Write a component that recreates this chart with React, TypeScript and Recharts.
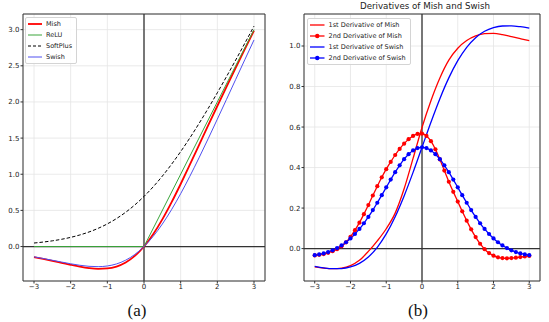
import React from "react";
import {
    LineChart,
    Line,
    XAxis,
    YAxis,
    CartesianGrid,
    ReferenceLine,
    ReferenceArea,
    Legend,
} from "recharts";

// x positions
const xTicks = [-3, -2, -1, 0, 1, 2, 3];
const xs = [
    -3, -2.75, -2.5, -2.25, -2, -1.75, -1.5, -1.25, -1, -0.75, -0.5, -0.25, 0,
    0.25, 0.5, 0.75, 1, 1.25, 1.5, 1.75, 2, 2.25, 2.5, 2.75, 3,
];
const xsFine = [
    -3, -2.875, -2.75, -2.625, -2.5, -2.375, -2.25, -2.125, -2, -1.875, -1.75,
    -1.625, -1.5, -1.375, -1.25, -1.125, -1, -0.875, -0.75, -0.625, -0.5,
    -0.375, -0.25, -0.125, 0, 0.125, 0.25, 0.375, 0.5, 0.625, 0.75, 0.875, 1,
    1.125, 1.25, 1.375, 1.5, 1.625, 1.75, 1.875, 2, 2.125, 2.25, 2.375, 2.5,
    2.625, 2.75, 2.875, 3,
];

// (a) activations
const mish = [
    -0.1456, -0.1702, -0.1968, -0.2247, -0.2525, -0.278, -0.2981, -0.3084,
    -0.3034, -0.2765, -0.2207, -0.1299, 0, 0.1696, 0.3752, 0.61, 0.8651,
    1.1319, 1.4034, 1.6749, 1.944, 2.2095, 2.4714, 2.7302, 2.9865,
];
const reluX = [-3, 0, 3];
const relu = [0, 0, 3];
const softplus = [
    0.0486, 0.062, 0.0789, 0.1002, 0.1269, 0.1602, 0.2014, 0.2519, 0.3133,
    0.3869, 0.4741, 0.5759, 0.6931, 0.8259, 0.9741, 1.1369, 1.3133, 1.5019,
    1.7014, 1.9102, 2.1269, 2.3502, 2.5789, 2.812, 3.0486,
];
const swish = [
    -0.1423, -0.1652, -0.1896, -0.2145, -0.2384, -0.2591, -0.2736, -0.2784,
    -0.2689, -0.2406, -0.1888, -0.1095, 0, 0.1405, 0.3112, 0.5094, 0.7311,
    0.9716, 1.2264, 1.4909, 1.7616, 2.0355, 2.3104, 2.5848, 2.8577,
];

// (b) derivatives
const mishD1 = [
    -0.09, -0.096, -0.099, -0.096, -0.084, -0.058, -0.014, 0.038, 0.098, 0.175,
    0.295, 0.445, 0.598, 0.73, 0.842, 0.93, 0.989, 1.027, 1.05, 1.061, 1.062,
    1.056, 1.046, 1.036, 1.026,
];
const mishD2 = [
    -0.034, -0.031, -0.027, -0.021, -0.013, -0.003, 0.011, 0.031, 0.058, 0.091,
    0.128, 0.17, 0.215, 0.262, 0.308, 0.352, 0.392, 0.428, 0.462, 0.492, 0.518,
    0.54, 0.556, 0.566, 0.567, 0.556, 0.53, 0.49, 0.44, 0.385, 0.33, 0.28,
    0.232, 0.184, 0.138, 0.095, 0.057, 0.024, -0.003, -0.022, -0.035, -0.043,
    -0.047, -0.048, -0.047, -0.045, -0.042, -0.039, -0.036,
];
const swishD1 = [
    -0.0881, -0.0952, -0.0994, -0.0987, -0.0908, -0.0727, -0.0413, 0.0063,
    0.0723, 0.1574, 0.26, 0.3763, 0.5, 0.6237, 0.74, 0.8426, 0.9277, 0.9937,
    1.0413, 1.0727, 1.0908, 1.0987, 1.0994, 1.0952, 1.0881,
];
const swishD2 = [
    -0.0323, -0.0287, -0.0237, -0.017, -0.0085, 0.0023, 0.0154, 0.0313, 0.0501,
    0.0719, 0.0969, 0.125, 0.1562, 0.1901, 0.2262, 0.2639, 0.3024, 0.3405,
    0.3772, 0.4112, 0.4412, 0.466, 0.4846, 0.4961, 0.5, 0.4961, 0.4846, 0.466,
    0.4412, 0.4112, 0.3772, 0.3405, 0.3024, 0.2639, 0.2262, 0.1901, 0.1562,
    0.125, 0.0969, 0.0719, 0.0501, 0.0313, 0.0154, 0.0023, -0.0085, -0.017,
    -0.0237, -0.0287, -0.0323,
];

const yTicksA = [0, 0.5, 1, 1.5, 2, 2.5, 3];
const yTicksB = [0, 0.2, 0.4, 0.6, 0.8, 1.0];

const RED = "#ff0000";
const BLUE = "#0000ff";
const GREEN = "#3aa53a";
const SWISH_A = "#5050f0";
const AXIS = "#333";
const FONT = "DejaVu Sans";

const pts = (xv: number[], yv: number[]) =>
    xv.map((x, i) => ({ x, y: yv[i] }));

const fmtX = (v: number) => (v < 0 ? `\u2212${Math.abs(v)}` : `${v}`);
const fmtY = (v: number) => v.toFixed(1);

const tickStyle = { fontSize: 7, fill: "#222", fontFamily: FONT };

type LegendItem = {
    label: string;
    color: string;
    width: number;
    dash?: string;
    marker?: boolean;
};

function LegendBox({ items, sample }: { items: LegendItem[]; sample: number }) {
    return (
        <div
            style={{
                background: "rgba(255,255,255,0.85)",
                border: "1px solid #d4d4d4",
                borderRadius: 2,
                padding: "1px 4px 1px 2px",
                fontFamily: FONT,
                fontSize: 6.5,
                color: "#222",
                whiteSpace: "nowrap",
            }}
        >
            {items.map((it) => (
                <div
                    key={it.label}
                    style={{ display: "flex", alignItems: "center", height: 10.8 }}
                >
                    <svg width={sample} height={6} style={{ marginRight: 4 }}>
                        <line
                            x1={0}
                            y1={3}
                            x2={sample}
                            y2={3}
                            stroke={it.color}
                            strokeWidth={it.width}
                            strokeDasharray={it.dash}
                        />
                        {it.marker && (
                            <circle cx={sample / 2} cy={3} r={2.2} fill={it.color} />
                        )}
                    </svg>
                    <span>{it.label}</span>
                </div>
            ))}
        </div>
    );
}

const legendA: LegendItem[] = [
    { label: "Mish", color: RED, width: 1.8 },
    { label: "ReLU", color: GREEN, width: 1 },
    { label: "SoftPlus", color: "#000", width: 1, dash: "3 2" },
    { label: "Swish", color: SWISH_A, width: 1 },
];

const legendB: LegendItem[] = [
    { label: "1st Derivative of Mish", color: RED, width: 1.3 },
    { label: "2nd Derivative of Mish", color: RED, width: 1.3, marker: true },
    { label: "1st Derivative of Swish", color: BLUE, width: 1.3 },
    { label: "2nd Derivative of Swish", color: BLUE, width: 1.3, marker: true },
];

const Y_A: [number, number] = [-0.4767, 3.2165];
const Y_B: [number, number] = [-0.16, 1.158];
const X_DOM: [number, number] = [-3.3, 3.3];

export default function App() {
    return (
        <div
            style={{
                position: "absolute",
                left: 0,
                top: 0,
                width: 549,
                height: 322,
                background: "#fff",
                overflow: "hidden",
            }}
        >
            <div style={{ position: "absolute", left: 0, top: 0 }}>
                <LineChart
                    width={275}
                    height={295}
                    margin={{ top: 14, right: 10, bottom: 0, left: 3 }}
                >
                    <CartesianGrid stroke="#e4e4e4" strokeWidth={0.8} />
                    <XAxis
                        type="number"
                        dataKey="x"
                        domain={X_DOM}
                        ticks={xTicks}
                        interval={0}
                        allowDataOverflow
                        axisLine={false}
                        tickLine={{ stroke: AXIS }}
                        tickSize={2.5}
                        tickMargin={1}
                        tick={tickStyle}
                        tickFormatter={fmtX}
                        height={14}
                    />
                    <YAxis
                        type="number"
                        domain={Y_A}
                        ticks={yTicksA}
                        interval={0}
                        allowDataOverflow
                        axisLine={false}
                        tickLine={{ stroke: AXIS }}
                        tickSize={2.5}
                        tickMargin={1}
                        tick={tickStyle}
                        tickFormatter={fmtY}
                        width={20}
                    />
                    <ReferenceLine x={0} stroke={AXIS} strokeWidth={1.3} />
                    <ReferenceLine y={0} stroke={AXIS} strokeWidth={1.3} />
                    <Line
                        data={pts(xs, mish)}
                        dataKey="y"
                        type="monotone"
                        stroke={RED}
                        strokeWidth={1.8}
                        dot={false}
                        activeDot={false}
                        isAnimationActive={false}
                    />
                    <Line
                        data={pts(reluX, relu)}
                        dataKey="y"
                        type="linear"
                        stroke={GREEN}
                        strokeWidth={1}
                        dot={false}
                        activeDot={false}
                        isAnimationActive={false}
                    />
                    <Line
                        data={pts(xs, softplus)}
                        dataKey="y"
                        type="monotone"
                        stroke="#000"
                        strokeWidth={1}
                        strokeDasharray="3.5 2"
                        dot={false}
                        activeDot={false}
                        isAnimationActive={false}
                    />
                    <Line
                        data={pts(xs, swish)}
                        dataKey="y"
                        type="monotone"
                        stroke={SWISH_A}
                        strokeWidth={1}
                        dot={false}
                        activeDot={false}
                        isAnimationActive={false}
                    />
                    <ReferenceArea
                        x1={X_DOM[0]}
                        x2={X_DOM[1]}
                        y1={Y_A[0]}
                        y2={Y_A[1]}
                        fill="none"
                        fillOpacity={0}
                        stroke={AXIS}
                        strokeWidth={1}
                    />
                    <Legend
                        layout="vertical"
                        align="center"
                        verticalAlign="middle"
                        wrapperStyle={{ left: 25, top: 17, width: "auto", height: "auto" }}
                        content={() => <LegendBox items={legendA} sample={14} />}
                    />
                </LineChart>
            </div>

            <div style={{ position: "absolute", left: 275, top: 0 }}>
                <LineChart
                    width={274}
                    height={295}
                    margin={{ top: 14, right: 9, bottom: 0, left: 3 }}
                >
                    <CartesianGrid stroke="#e4e4e4" strokeWidth={0.8} />
                    <XAxis
                        type="number"
                        dataKey="x"
                        domain={X_DOM}
                        ticks={xTicks}
                        interval={0}
                        allowDataOverflow
                        axisLine={false}
                        tickLine={{ stroke: AXIS }}
                        tickSize={2.5}
                        tickMargin={1}
                        tick={tickStyle}
                        tickFormatter={fmtX}
                        height={14}
                    />
                    <YAxis
                        type="number"
                        domain={Y_B}
                        ticks={yTicksB}
                        interval={0}
                        allowDataOverflow
                        axisLine={false}
                        tickLine={{ stroke: AXIS }}
                        tickSize={2.5}
                        tickMargin={1}
                        tick={tickStyle}
                        tickFormatter={fmtY}
                        width={26}
                    />
                    <ReferenceLine x={0} stroke={AXIS} strokeWidth={1.3} />
                    <ReferenceLine y={0} stroke={AXIS} strokeWidth={1.3} />
                    <Line
                        data={pts(xs, mishD1)}
                        dataKey="y"
                        type="monotone"
                        stroke={RED}
                        strokeWidth={1.3}
                        dot={false}
                        activeDot={false}
                        isAnimationActive={false}
                    />
                    <Line
                        data={pts(xsFine, mishD2)}
                        dataKey="y"
                        type="monotone"
                        stroke={RED}
                        strokeWidth={1.3}
                        dot={{ r: 2.1, fill: RED, stroke: RED, strokeWidth: 0 }}
                        activeDot={false}
                        isAnimationActive={false}
                    />
                    <Line
                        data={pts(xs, swishD1)}
                        dataKey="y"
                        type="monotone"
                        stroke={BLUE}
                        strokeWidth={1.3}
                        dot={false}
                        activeDot={false}
                        isAnimationActive={false}
                    />
                    <Line
                        data={pts(xsFine, swishD2)}
                        dataKey="y"
                        type="monotone"
                        stroke={BLUE}
                        strokeWidth={1.3}
                        dot={{ r: 2.1, fill: BLUE, stroke: BLUE, strokeWidth: 0 }}
                        activeDot={false}
                        isAnimationActive={false}
                    />
                    <ReferenceArea
                        x1={X_DOM[0]}
                        x2={X_DOM[1]}
                        y1={Y_B[0]}
                        y2={Y_B[1]}
                        fill="none"
                        fillOpacity={0}
                        stroke={AXIS}
                        strokeWidth={1}
                    />
                    <Legend
                        layout="vertical"
                        align="center"
                        verticalAlign="middle"
                        wrapperStyle={{ left: 32, top: 18, width: "auto", height: "auto" }}
                        content={() => <LegendBox items={legendB} sample={14.5} />}
                    />
                </LineChart>
            </div>

            <div
                style={{
                    position: "absolute",
                    left: 307,
                    top: 1,
                    width: 236,
                    textAlign: "center",
                    fontFamily: FONT,
                    fontSize: 8.7,
                    color: "#222",
                    lineHeight: "11px",
                }}
            >
                Derivatives of Mish and Swish
            </div>
            <div
                style={{
                    position: "absolute",
                    left: 107,
                    top: 301,
                    width: 60,
                    textAlign: "center",
                    fontFamily: "Liberation Serif",
                    fontSize: 17,
                    lineHeight: "20px",
                    color: "#111",
                }}
            >
                (a)
            </div>
            <div
                style={{
                    position: "absolute",
                    left: 388,
                    top: 301,
                    width: 60,
                    textAlign: "center",
                    fontFamily: "Liberation Serif",
                    fontSize: 17,
                    lineHeight: "20px",
                    color: "#111",
                }}
            >
                (b)
            </div>
        </div>
    );
}
